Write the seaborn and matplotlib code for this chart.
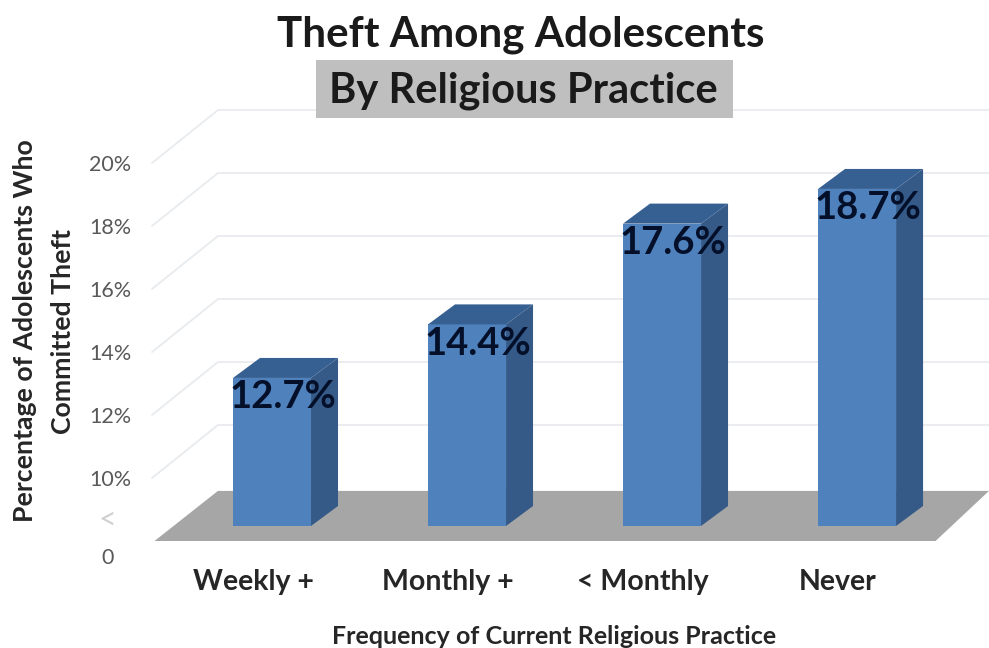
import pandas as pd
import matplotlib.pyplot as plt
import matplotlib.transforms as mtransforms
from matplotlib.patches import Polygon, Rectangle
import seaborn as sns

categorias = ['Weekly +', 'Monthly +', '< Monthly', 'Never']
valores = [12.7, 14.4, 17.6, 18.7]
rotulos = ['12.7%', '14.4%', '17.6%', '18.7%']
ticks_y = [10, 12, 14, 16, 18, 20]

dados = pd.DataFrame({'pratica': categorias, 'taxa': valores})

sns.set_theme(style='white')
plt.rcParams['font.family'] = ['Lato', 'DejaVu Sans']

fig = plt.figure(figsize=(9.89, 6.48), dpi=100)
ax = fig.add_axes([152 / 989, 1 - 541 / 648, (989 - 152) / 989, (541 - 100) / 648])

sns.barplot(data=dados, x='pratica', y='taxa', color='#4F81BD', saturation=1,
            width=0.40, ax=ax, zorder=4, linewidth=0)

xmin, xmax = -0.518, 3.774
ymin, ymax = 8, 22
ax.set_xlim(xmin, xmax)
ax.set_ylim(ymin, ymax)

# the bars stand in the middle of the floor, so shift them back from the front plane
meio = ax.transData + mtransforms.ScaledTranslation(19 / 100, 15 / 100, fig.dpi_scale_trans)
prof_x, prof_y = 27 / 195, 20 / 31.5

for barra, v, rotulo in zip(ax.patches, valores, rotulos):
    x0 = barra.get_x()
    x1 = x0 + barra.get_width()
    barra.set_y(ymin)
    barra.set_height(v - ymin)
    barra.set_transform(meio)
    barra.set_clip_on(False)
    topo = Polygon([(x0, v), (x1, v), (x1 + prof_x, v + prof_y), (x0 + prof_x, v + prof_y)],
                   facecolor='#376092', edgecolor='none', transform=meio, clip_on=False, zorder=4)
    lado = Polygon([(x1, ymin), (x1 + prof_x, ymin + prof_y), (x1 + prof_x, v + prof_y), (x1, v)],
                   facecolor='#355A88', edgecolor='none', transform=meio, clip_on=False, zorder=4)
    ax.add_patch(topo)
    ax.add_patch(lado)
    ax.text((x0 + x1) / 2 + 0.055, v - 0.62, rotulo, transform=meio, ha='center', va='center',
            fontsize=27.5, fontweight='bold', color='#04102A', zorder=6)

# back wall lines and grey floor
parede_x, parede_y = 66 / 195, 53 / 31.5
for t in ticks_y:
    ax.plot([xmin, xmin + parede_x, xmax], [t, t + parede_y, t + parede_y],
            color='#E8EBEE', lw=1.3, clip_on=False, zorder=1)

chao = Polygon([(-0.505, ymin), (3.50, ymin), (xmax, ymin + 1.59), (-0.18, ymin + 1.59)],
               facecolor='#A6A6A6', edgecolor='none', clip_on=False, zorder=2)
ax.add_patch(chao)

sns.despine(ax=ax, left=True, bottom=True, top=True, right=True)
ax.set_yticks(ticks_y)
ax.set_yticklabels([f'{t}%' for t in ticks_y], fontsize=15.5, color='#595959')
ax.tick_params(axis='y', length=0, pad=15)
ax.set_xticks(range(4))
ax.set_xticklabels(categorias, fontsize=20.5, fontweight='bold', color='#262626')
ax.tick_params(axis='x', length=0, pad=20)

ax.set_xlabel('Frequency of Current Religious Practice', fontsize=18, fontweight='bold',
              color='#262626')
ax.xaxis.set_label_coords((554 - 152) / 837, -84 / 441, transform=ax.transAxes)
ax.set_ylabel('Percentage of Adolescents Who\nCommitted Theft', fontsize=19.2, fontweight='bold',
              color='#262626', linespacing=1.7)
ax.yaxis.set_label_coords(-77 / 837, (541 - 331) / 441, transform=ax.transAxes)

# broken axis marker and the zero below it
fig.text(107 / 989, 1 - 520 / 648, '<', fontsize=22, color='#D0D0D0', ha='center', va='center')
fig.text(108 / 989, 1 - 558 / 648, '0', fontsize=15.5, color='#595959', ha='center', va='center')

fig.text(521 / 989, 1 - 35 / 648, 'Theft Among Adolescents', fontsize=30.3, fontweight='bold',
         color='#1A1A1A', ha='center', va='center')
fig.add_artist(Rectangle((316 / 989, 1 - 118 / 648), 417 / 989, 58 / 648,
                         transform=fig.transFigure, facecolor='#BFBFBF', edgecolor='none'))
fig.text(523 / 989, 1 - 91 / 648, 'By Religious Practice', fontsize=30, fontweight='bold',
         color='#1A1A1A', ha='center', va='center')

fig.savefig('out.png', dpi=100)
